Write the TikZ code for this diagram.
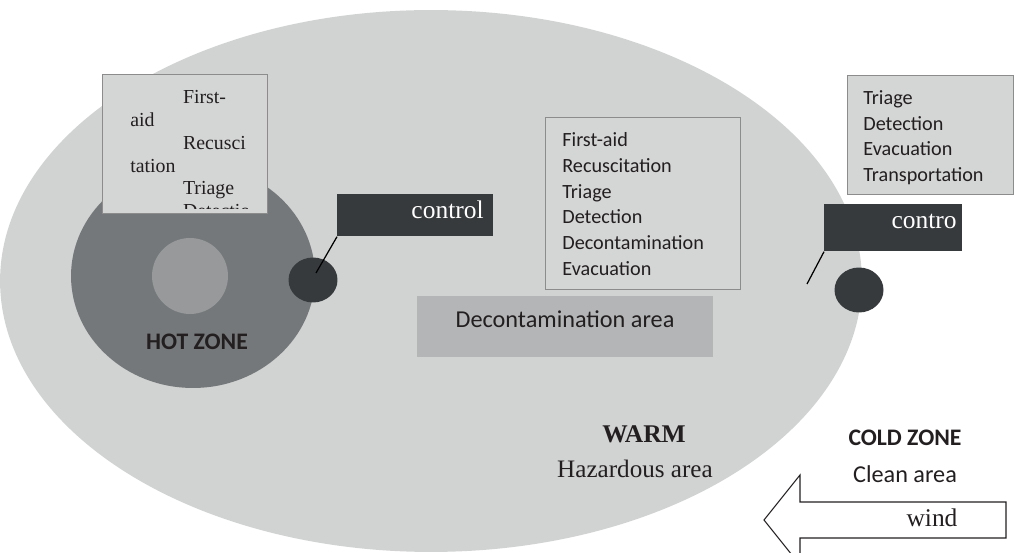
\documentclass[tikz,border=0pt]{standalone}
\usepackage{fontspec}
\setmainfont{Liberation Serif}
\newfontfamily\carlito{Carlito}
\usetikzlibrary{shapes.geometric}

\definecolor{zonelight}{HTML}{D1D3D2}
\definecolor{zonehot}{HTML}{75787A}
\definecolor{zonecore}{HTML}{97999A}
\definecolor{boxfill}{HTML}{D4D5D5}
\definecolor{boxedge}{HTML}{8C8C8C}
\definecolor{ctrldark}{HTML}{373A3D}
\definecolor{deconfill}{HTML}{B3B5B6}
\definecolor{inkdark}{HTML}{231F20}

\begin{document}
\begin{tikzpicture}[
    x=0.02cm, y=-0.02cm,
    every node/.append style={text=inkdark},
    listbox/.style={
      draw=boxedge, line width=0.6pt, fill=boxfill,
      anchor=north west, inner sep=0pt
    },
    listtext/.style={
      font=\carlito\fontsize{11.5}{14.7}\selectfont,
      align=left, anchor=north west, inner sep=0pt
    },
    ctrlbox/.style={fill=ctrldark, anchor=north west, inner sep=0pt},
    ctrltext/.style={font=\fontsize{14.5}{17}\selectfont, text=white, anchor=base east, inner sep=0pt},
    ctrldot/.style={
      ellipse, fill=ctrldark, inner sep=0pt,
      minimum width=0.98cm, minimum height=0.9cm
    },
    lead/.style={line width=0.7pt, draw=black},
    sanslabel/.style={font=\carlito\fontsize{13.8}{16}\selectfont, anchor=base, inner sep=0pt},
    seriflabel/.style={font=\fontsize{14.3}{17}\selectfont, anchor=base, inner sep=0pt}
  ]

  \useasboundingbox (0,0) rectangle (1018,553);
  \clip (0,0) rectangle (1018,553);

  % ===== Zones =====
  \fill[zonelight] (431,281) ellipse [x radius=8.62cm, y radius=5.42cm];
  \fill[zonehot]   (193,276) ellipse [x radius=2.44cm, y radius=2.24cm];
  \fill[zonecore]  (190,276) circle [radius=0.76cm];
  \node[sanslabel, font=\carlito\bfseries\fontsize{13.5}{16}\selectfont] (hot) at (197,350) {HOT ZONE};

  % ===== Hot zone tasks (text cut off by its frame) =====
  \node[listbox, minimum width=3.3cm, minimum height=2.78cm] (hottasks) at (102,74) {};
  \begin{scope}
    \clip (hottasks.north west) rectangle (247,209);
    \node[listtext, font=\fontsize{11.3}{13}\selectfont] (hottext) at (130,90)
      {\hspace*{30pt}First-\\aid\\\hspace*{30pt}Recusci\\tation\\\hspace*{30pt}Triage\\\hspace*{30pt}Detection};
  \end{scope}

  % ===== Control point, hot side =====
  \node[ctrldot] (dothot) at (313,280) {};
  \node[ctrlbox, minimum width=3.12cm, minimum height=0.84cm] (ctrlhot) at (337,194) {};
  \node[ctrltext] (ctrlhottext) at (484,219) {control};
  \coordinate (tiphot) at (316,273);
  \draw[lead] (ctrlhot.south west) -- (tiphot);

  % ===== Warm zone =====
  \node[listbox, minimum width=3.9cm, minimum height=3.44cm] (warmtasks) at (545,117) {};
  \node[listtext] (warmtext) at (562,132)
    {First-aid\\Recuscitation\\Triage\\Detection\\Decontamination\\Evacuation};

  \node[fill=deconfill, anchor=north west, inner sep=0pt,
        minimum width=5.92cm, minimum height=1.22cm] (decon) at (417,296) {};
  \node[sanslabel] (decontext) at (565,328) {Decontamination area};

  \node[seriflabel, font=\bfseries\fontsize{14.5}{17}\selectfont] (warm) at (644,443) {WARM};
  \node[seriflabel] (hazard) at (635,478) {Hazardous area};

  % ===== Cold zone =====
  \node[listbox, minimum width=3.32cm, minimum height=2.38cm] (coldtasks) at (847,75) {};
  \node[listtext] (coldtext) at (863,90)
    {Triage\\Detection\\Evacuation\\Transportation};

  \node[ctrldot] (dotcold) at (859,290) {};
  \node[ctrlbox, minimum width=2.76cm, minimum height=0.94cm] (ctrlcold) at (824,204) {};
  \node[ctrltext] (ctrlcoldtext) at (957,229) {contro};
  \coordinate (tipcold) at (807,284);
  \draw[lead] (ctrlcold.south west) -- (tipcold);

  \node[sanslabel, font=\carlito\bfseries\fontsize{13.5}{16}\selectfont] (cold) at (905,446) {COLD ZONE};
  \node[sanslabel] (clean) at (905,483) {Clean area};

  % ===== Wind =====
  \draw[fill=white, draw=inkdark, line width=0.6pt]
    (764,520) -- (800,475) -- (800,502) -- (1006,502) -- (1006,538)
    -- (800,538) -- (800,565) -- cycle;
  \node[seriflabel, font=\fontsize{14.5}{17}\selectfont] (wind) at (932,527) {wind};
\end{tikzpicture}
\end{document}
